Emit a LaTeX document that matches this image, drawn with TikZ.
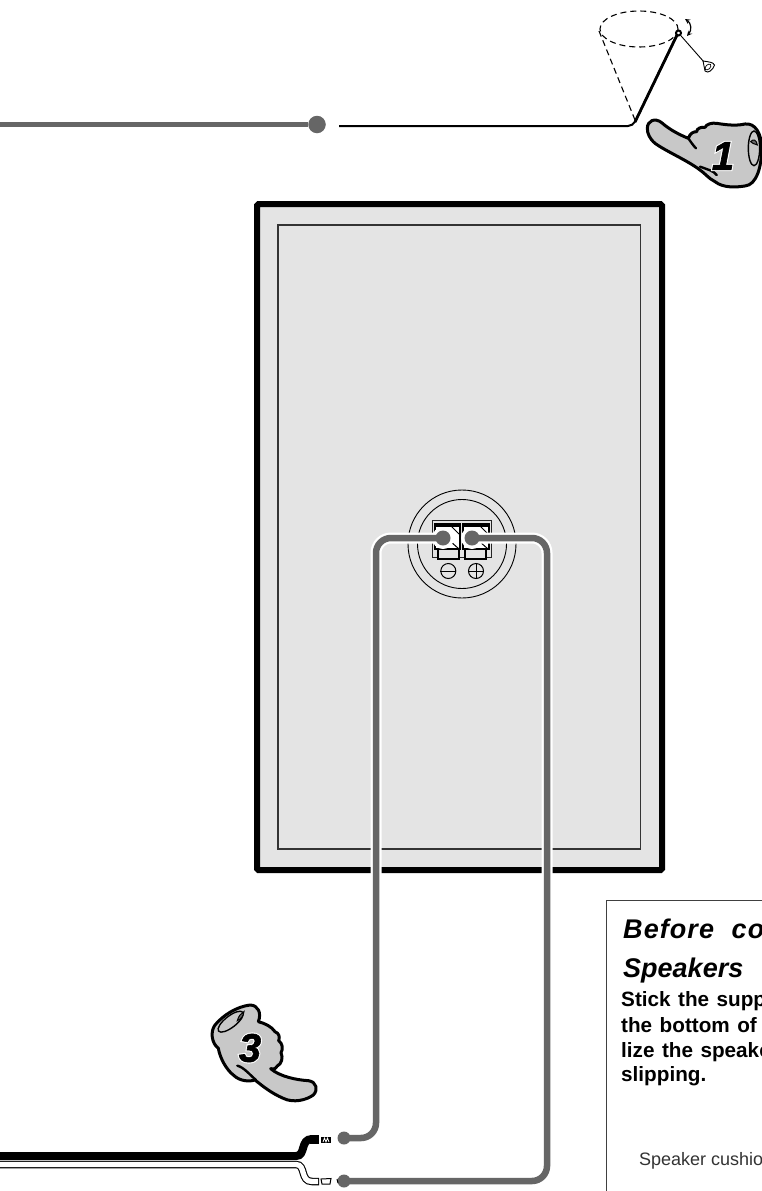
\documentclass[tikz,border=0pt]{standalone}
\usepackage{fontspec}
\setmainfont{Liberation Sans}
\newfontfamily\digitw[FakeBold=7]{Liberation Sans Bold Italic}
\newfontfamily\digitb[FakeBold=1.5]{Liberation Sans Bold Italic}
\newfontfamily\bodyfont[WordSpace=1.3]{Liberation Sans}
\newfontfamily\headfont[LetterSpace=4]{Liberation Sans}
\definecolor{panel}{HTML}{E4E4E4}
\definecolor{wiregray}{HTML}{666666}
\definecolor{handgray}{HTML}{C8C8C8}
\tikzset{
 wire/.style={draw=wiregray,line width=6.5pt,rounded corners=15pt},
 halo/.style={draw=white,line width=11pt,rounded corners=15pt},
 dot/.style={circle,fill=wiregray,inner sep=0pt,minimum size=#1},
 ring/.style={circle,fill=white,inner sep=0pt,minimum size=22pt},
 thin line/.style={draw=black,line width=0.9pt},
 dash line/.style={draw=black,line width=1.1pt,dash pattern=on 6pt off 4pt},
 hand/.style={draw=black,line width=3pt,fill=handgray,line join=round},
 crease/.style={draw=black,line width=2.4pt,line cap=round},
 heading/.style={anchor=base west,inner sep=0pt,font=\bfseries\itshape\fontsize{27}{27}\selectfont},
 body/.style={anchor=base west,inner sep=0pt,font=\bodyfont\bfseries\fontsize{20.7}{20.7}\selectfont},
 note/.style={anchor=base west,inner sep=0pt,font=\fontsize{18}{18}\selectfont,text=black!80},
 term/.style={draw=black,line width=2pt,fill=#1},
}
\newcommand{\digitnode}[3]{\node[inner sep=0pt] (#1) at (#2) {\fontsize{40}{40}\selectfont\rlap{\digitw\color{white}#3}\digitb\color{black}#3};}
\begin{document}
\begin{tikzpicture}[x=1pt,y=-1pt]
\useasboundingbox (0,0) rectangle (762,1191);
\clip (0,0) rectangle (762,1191);
\fill[white] (0,0) rectangle (762,1191);

% top wire
\coordinate (gs) at (0,124.5);
\node[dot=17.5pt] (gd) at (317,124.5) {};
\draw[draw=wiregray,line width=5pt] (gs) -- (gd);
\coordinate (bs) at (339,126);
\coordinate (bc) at (633,126);
\coordinate (bt) at (678,33);
\draw[black,line width=2pt,rounded corners=5pt] (bs) -- (bc) -- (bt);
\draw[black,line width=2.8pt] (635,122) -- (bt);

% cone
\draw[dash line] (639,29) ellipse (39 and 18);
\draw[dash line] (599,31) -- (635,120);
\node[circle,draw=black,line width=2pt,fill=white,inner sep=0pt,minimum size=5pt] (eye) at (678.5,33) {};
\coordinate (cone) at (704,62);
\draw[thin line] (eye) -- (cone);
\draw[black,line width=0.9pt,fill=white] (703,61) -- (705,71) .. controls (708,74) and (713,70) .. (714.5,65) .. controls (713,62) and (709,62) .. cycle;
\draw[black,line width=0.7pt,rotate around={45:(708,67)}] (708,67) ellipse (3.5 and 2.2);
\draw[black,line width=1.2pt,stealth-stealth] (685,19) .. controls (691,23) and (692,30) .. (687,36);

% speaker box
\draw[fill=panel,draw=black,line width=6pt,rounded corners=1.5pt] (257,204) rectangle (662,870);
\draw[draw=black!80,line width=1.4pt] (278,225) rectangle (640.5,849);

% terminal plate
\draw[thin line] (462,544) circle (54);
\draw[thin line] (462,544) circle (44.5);
\draw[draw=black!85,line width=1pt] (432.5,520.5) rectangle (491,557.5);
\draw[term=white] (435,524) rectangle (460,549);
\draw[term=white] (463,524) rectangle (489,549);
\draw[black,line width=3pt] (435,525) -- (460,525);
\draw[black,line width=3pt] (463,525) -- (489,525);
\draw[black,line width=1pt] (449,524) -- (459,534);
\draw[black,line width=1pt] (478,524) -- (488,534);
\draw[black,line width=1pt] (450,541) -- (459,549);
\draw[black,line width=1pt] (479,541) -- (488,549);
\draw[term=panel] (437.5,549) rectangle (458.5,558.5);
\draw[term=panel] (464.5,549) rectangle (486,558.5);
\node[circle,draw=black,line width=1pt,inner sep=0pt,minimum size=15pt] (minus) at (448.3,571) {};
\node[circle,draw=black,line width=1pt,inner sep=0pt,minimum size=15pt] (plus) at (476,571) {};
\draw[black,line width=1pt] (minus.west) -- (minus.east);
\draw[black,line width=1pt] (plus.west) -- (plus.east);
\draw[black,line width=1pt] (plus.north) -- (plus.south);

% wires to terminals
\coordinate (dl) at (443,538);
\coordinate (dr) at (472,538);
\coordinate (el) at (344,1138);
\coordinate (er) at (344,1181);
\coordinate (cl1) at (376,538);
\coordinate (cl2) at (376,1138);
\coordinate (cr1) at (547,538);
\coordinate (cr2) at (547,1181);
\node[ring] at (dl) {};
\node[ring] at (dr) {};
\draw[halo] (dl) -- (cl1) -- (cl2) -- (el);
\draw[halo] (dr) -- (cr1) -- (cr2) -- (er);
\draw[wire] (dl) -- (cl1) -- (cl2) -- (el);
\draw[wire] (dr) -- (cr1) -- (cr2) -- (er);
\node[dot=15pt] (tl) at (dl) {};
\node[dot=15pt] (tr) at (dr) {};
\node[dot=13pt] (bl) at (el) {};
\node[dot=13pt] (br) at (er) {};

% cables
\coordinate (c1a) at (0,1156);
\coordinate (c1b) at (319,1139);
\coordinate (c2a) at (0,1164.5);
\coordinate (c2b) at (319,1181.5);
\draw[black,line width=8pt] (c1a) -- (296,1156) .. controls (306,1156) and (300,1139) .. (312,1139);
\draw[black,line width=9pt] (310,1139) -- (c1b);
\draw[black,line width=7.5pt] (c2a) -- (296,1164.5) .. controls (306,1164.5) and (300,1181.5) .. (312,1181.5) -- (c2b);
\draw[white,line width=5.3pt] (0,1164.5) -- (296,1164.5) .. controls (306,1164.5) and (300,1181.5) .. (312,1181.5) -- (318,1181.5);
\fill[black] (321,1137) rectangle (331,1142.5);
\draw[white,line width=0.8pt] (323,1142) -- (324.5,1138) -- (326,1142) -- (327.5,1138) -- (329,1142);
\draw[black,line width=1pt] (321,1179) -- (331,1178.5) -- (330,1184) -- (322,1184) -- cycle;
\draw[black,line width=1pt] (337,1179) -- (338,1183);

% hand 1
\begin{scope}[shift={(560,0)},x=0.3333pt,y=-0.3333pt]
\draw[hand] (262,385) .. controls (262,362) and (285,352) .. (305,368)
 .. controls (330,390) and (360,405) .. (385,415)
 .. controls (390,400) and (400,395) .. (410,395)
 .. controls (410,385) and (425,380) .. (435,382)
 .. controls (440,372) and (455,368) .. (470,370)
 .. controls (500,375) and (530,378) .. (555,372)
 .. controls (585,368) and (605,400) .. (605,445)
 .. controls (605,500) and (590,555) .. (555,558)
 .. controls (530,562) and (490,565) .. (465,545)
 .. controls (445,535) and (435,520) .. (420,510)
 .. controls (380,480) and (320,455) .. (285,430)
 .. controls (268,415) and (262,400) .. cycle;
\draw[black,line width=1.4pt] (582,445) ellipse (17 and 52);
\draw[black,line width=1pt,fill=black!60] (572,425) .. controls (580,415) and (590,420) .. (592,435) .. controls (582,430) and (576,432) .. cycle;
\draw[crease] (385,415) .. controls (392,425) and (400,437) .. (408,445);
\draw[crease] (420,500) .. controls (440,508) and (462,512) .. (470,525);
\end{scope}
\digitnode{one}{723,156}{1}

% hand 3
\begin{scope}[shift={(200,980)},x=0.3333pt,y=-0.3333pt]
\draw[hand] (45,135) .. controls (70,105) and (110,80) .. (150,75)
 .. controls (175,75) and (185,100) .. (175,125)
 .. controls (195,130) and (215,140) .. (225,155)
 .. controls (238,160) and (240,172) .. (236,182)
 .. controls (248,190) and (250,208) .. (243,218)
 .. controls (250,232) and (245,252) .. (232,258)
 .. controls (230,266) and (222,268) .. (212,266)
 .. controls (240,290) and (290,300) .. (325,302)
 .. controls (350,305) and (355,330) .. (340,345)
 .. controls (320,360) and (280,370) .. (250,355)
 .. controls (215,340) and (190,320) .. (165,300)
 .. controls (150,305) and (120,305) .. (100,285)
 .. controls (80,270) and (60,235) .. (55,205)
 .. controls (35,190) and (30,155) .. cycle;
\draw[black,line width=1.4pt,rotate around={38:(92,125)}] (92,125) ellipse (46 and 17);
\draw[black,line width=1pt,fill=black!60] (112,122) .. controls (116,108) and (122,100) .. (132,95) .. controls (130,106) and (124,118) .. cycle;
\draw[crease] (112,257) .. controls (132,262) and (150,285) .. (168,300);
\end{scope}
\digitnode{three}{250,1048}{3}

% info panel
\coordinate (pa) at (606.5,1191);
\coordinate (pb) at (606.5,900.5);
\coordinate (pc) at (762,900.5);
\draw[draw=black!75,line width=1.6pt] (pa) -- (pb) -- (pc);
\node[heading] (h1) at (623,938) {\headfont Before\hspace{9pt} co};
\node[heading] (h2) at (623,977) {Speakers};
\node[body] (b1) at (621,1006.5) {Stick the supp};
\node[body] (b2) at (621,1032) {the bottom of};
\node[body] (b3) at (621,1057) {lize the speake};
\node[body] (b4) at (621,1081.5) {slipping.};
\node[note] (n1) at (639,1165) {Speaker cushio};
\end{tikzpicture}
\end{document}
